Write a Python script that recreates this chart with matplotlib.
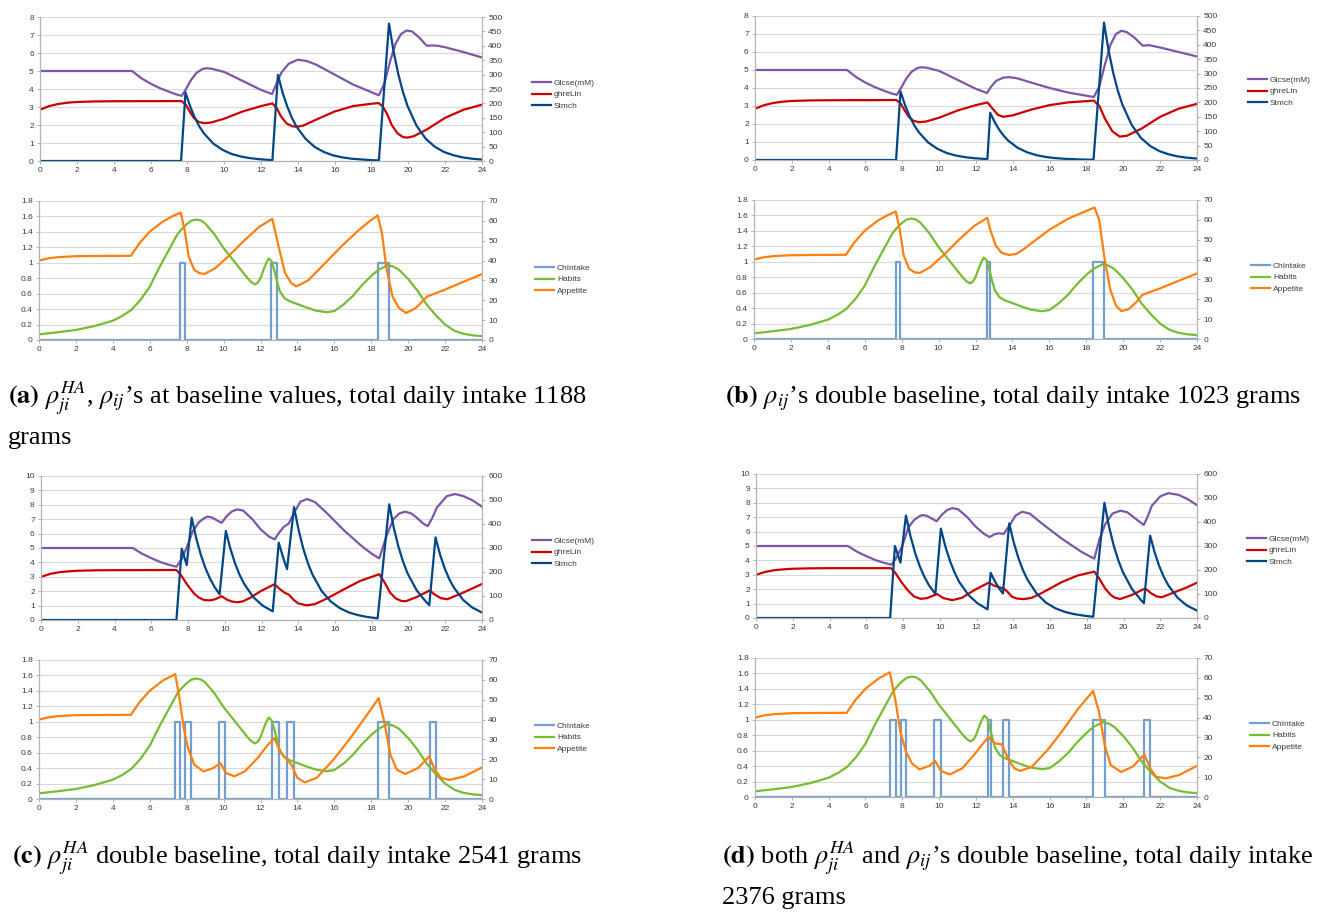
import matplotlib
matplotlib.use("Agg")
import matplotlib.pyplot as plt
from matplotlib.ticker import MultipleLocator, FuncFormatter

plt.rcParams["font.family"] = "Liberation Sans"
plt.rcParams["mathtext.fontset"] = "stix"

W, H = 1317, 914

# ── series: (hour, value) ────────────────────────────────────────────────
# Glucose (mM, left axis), ghrelin (left axis), stomach (right axis)
GLC_A = [(0, 5), (5, 5), (5.5, 4.6), (6, 4.3), (6.5, 4.05), (7, 3.85), (7.4, 3.7), (7.7, 3.62),
         (7.9, 3.95), (8.2, 4.5), (8.5, 4.9), (8.8, 5.1), (9.0, 5.15), (9.3, 5.13), (10, 4.95),
         (11, 4.45), (12, 3.95), (12.6, 3.72), (12.8, 4.2), (13.1, 4.9), (13.5, 5.4), (14, 5.63),
         (14.5, 5.55), (15, 5.35), (16, 4.8), (17, 4.25), (18, 3.82), (18.4, 3.65), (18.7, 4.3),
         (19.0, 5.5), (19.3, 6.5), (19.6, 7.05), (19.9, 7.25), (20.2, 7.2), (20.6, 6.85), (21.0, 6.4),
         (21.3, 6.42), (21.6, 6.4), (22, 6.32), (23, 6.05), (24, 5.75)]
GHR_A = [(0, 2.85), (0.5, 3.05), (1, 3.17), (1.5, 3.24), (2, 3.28), (3, 3.31), (4, 3.32), (7.68, 3.33),
         (7.9, 3.15), (8.1, 2.8), (8.35, 2.4), (8.6, 2.18), (8.9, 2.1), (9.3, 2.14), (10, 2.35),
         (11, 2.75), (12, 3.05), (12.62, 3.2), (12.85, 2.95), (13.1, 2.45), (13.4, 2.08), (13.7, 1.93),
         (13.95, 1.9), (14.3, 1.97), (15, 2.3), (16, 2.75), (17, 3.05), (18, 3.18), (18.38, 3.22),
         (18.6, 3.05), (18.85, 2.6), (19.1, 2.0), (19.4, 1.55), (19.7, 1.33), (19.95, 1.3), (20.3, 1.38),
         (21, 1.75), (22, 2.4), (23, 2.85), (24, 3.13)]
STM_A = [(0, 0), (7.66, 0), (7.9, 238), (8.15, 190), (8.4, 151), (8.65, 120), (8.9, 96), (9.4, 61),
         (9.9, 39), (10.4, 24.5), (10.9, 15.6), (11.4, 9.9), (11.9, 6.3), (12.62, 3), (12.92, 299),
         (13.17, 238), (13.42, 190), (13.67, 151), (13.92, 120), (14.42, 77), (14.92, 48.5),
         (15.42, 31), (15.92, 19.5), (16.42, 12.4), (16.92, 7.9), (17.92, 3.2), (18.4, 2),
         (18.95, 477), (19.2, 380), (19.45, 303), (19.7, 241), (19.95, 192), (20.45, 122),
         (20.95, 77), (21.45, 49), (21.95, 31), (22.45, 20), (22.95, 12.5), (23.45, 8), (24, 5)]

GLC_B = GLC_A[:18] + [(12.8, 4.05), (13.1, 4.4), (13.5, 4.58), (13.8, 4.6), (14.2, 4.55), (15, 4.3),
                      (16, 4.0), (17, 3.75), (18, 3.57), (18.4, 3.5), (18.7, 4.1), (19.0, 5.3),
                      (19.3, 6.4), (19.6, 7.0), (19.9, 7.18), (20.2, 7.1), (20.6, 6.8), (21.05, 6.35),
                      (21.4, 6.38), (22, 6.25), (23, 6.0), (24, 5.75)]
GHR_B = GHR_A[:18] + [(12.9, 2.85), (13.2, 2.5), (13.5, 2.4), (14, 2.48), (15, 2.8), (16, 3.05),
                      (17, 3.2), (18, 3.27), (18.4, 3.3), (18.7, 3.0), (19.0, 2.3), (19.4, 1.6),
                      (19.8, 1.3), (20.2, 1.35), (21, 1.75), (22, 2.4), (23, 2.85), (24, 3.12)]
STM_B = STM_A[:14] + [(12.77, 164), (13.02, 131), (13.27, 104), (13.52, 83), (13.77, 66), (14.27, 42),
                      (14.77, 27), (15.27, 17), (15.77, 10.7), (16.27, 6.8), (16.77, 4.3), (17.77, 1.7),
                      (18.38, 1)] + STM_A[27:]

GLC_C = [(0, 5), (5, 5), (5.5, 4.6), (6, 4.3), (6.5, 4.02), (7, 3.82), (7.37, 3.7), (7.65, 4.2),
         (7.97, 5.15), (8.25, 6.15), (8.6, 6.8), (8.87, 7.06), (9.05, 7.18), (9.3, 7.12), (9.6, 6.9),
         (9.83, 6.75), (10.1, 7.2), (10.4, 7.55), (10.68, 7.68), (11.0, 7.6), (11.5, 7.0), (11.95, 6.3),
         (12.4, 5.8), (12.72, 5.6), (12.95, 6.05), (13.2, 6.45), (13.48, 6.7), (13.76, 7.41),
         (14.12, 8.22), (14.48, 8.4), (14.9, 8.2), (15.57, 7.41), (16.47, 6.25), (17.38, 5.21),
         (18.0, 4.6), (18.41, 4.28), (18.82, 5.9), (19.18, 7.0), (19.5, 7.4), (19.82, 7.52),
         (20.15, 7.4), (20.45, 7.1), (20.8, 6.7), (21.05, 6.52), (21.3, 7.1), (21.54, 7.8),
         (22.08, 8.6), (22.53, 8.75), (23.0, 8.6), (23.5, 8.3), (24, 7.87)]
GHR_C = [(0, 3.0), (0.5, 3.2), (1, 3.32), (1.5, 3.38), (2, 3.42), (3, 3.45), (4, 3.46), (7.37, 3.47),
         (7.6, 3.15), (7.97, 2.43), (8.32, 1.85), (8.6, 1.55), (8.87, 1.39), (9.2, 1.36), (9.5, 1.45),
         (9.83, 1.65), (10.14, 1.4), (10.4, 1.28), (10.68, 1.23), (11.0, 1.3), (11.4, 1.55),
         (11.95, 2.0), (12.7, 2.48), (13.0, 2.15), (13.25, 1.9), (13.5, 1.75), (13.75, 1.4),
         (14.0, 1.15), (14.45, 1.02), (14.9, 1.1), (15.57, 1.5), (16.47, 2.12), (17.38, 2.72),
         (18.41, 3.18), (18.7, 2.6), (19.0, 1.9), (19.3, 1.5), (19.6, 1.33), (19.85, 1.3),
         (20.45, 1.6), (21.15, 2.05), (21.45, 1.75), (21.75, 1.52), (22.1, 1.44), (22.8, 1.8),
         (23.4, 2.15), (24, 2.5)]
STM_C = [(0, 0), (7.37, 0), (7.66, 297), (7.93, 229), (8.2, 426), (8.45, 340), (8.7, 271), (8.95, 216),
         (9.2, 172), (9.45, 137), (9.72, 107), (10.06, 371), (10.31, 296), (10.56, 236), (10.81, 188),
         (11.06, 150), (11.56, 95), (12.06, 60), (12.61, 36), (12.94, 322), (13.19, 257), (13.39, 212),
         (13.77, 470), (14.02, 375), (14.27, 298), (14.52, 238), (14.77, 190), (15.27, 121),
         (15.77, 77), (16.27, 49), (16.77, 31), (17.27, 20), (17.77, 12.4), (18.32, 7),
         (18.95, 482), (19.2, 384), (19.45, 306), (19.7, 244), (19.95, 194), (20.45, 123),
         (20.95, 76), (21.13, 62), (21.47, 344), (21.72, 272), (21.97, 215), (22.22, 170),
         (22.47, 135), (22.97, 84), (23.47, 52), (24, 31)]

GLC_D = GLC_C[:7] + [(7.6, 4.1), (7.96, 5.0), (8.3, 6.3), (8.6, 6.8), (8.87, 7.05), (9.05, 7.15),
                     (9.3, 7.1), (9.6, 6.88), (9.83, 6.72), (10.1, 7.15), (10.4, 7.5), (10.68, 7.63),
                     (11.0, 7.55), (11.5, 7.0), (11.95, 6.35), (12.4, 5.85), (12.72, 5.62),
                     (12.95, 5.8), (13.2, 5.88), (13.48, 5.84), (13.85, 6.53), (14.12, 7.1),
                     (14.48, 7.38), (14.9, 7.25), (15.57, 6.55), (16.65, 5.5), (17.74, 4.57),
                     (18.41, 4.12), (18.7, 5.5), (19.0, 6.5), (19.4, 7.25), (19.82, 7.45),
                     (20.2, 7.35), (20.6, 6.95), (21.1, 6.46), (21.3, 7.0), (21.54, 7.79),
                     (22.0, 8.45), (22.44, 8.67), (23.0, 8.55), (23.5, 8.25), (24, 7.84)]
GHR_D = GHR_C[:7] + [(7.35, 3.46), (7.6, 3.1), (7.96, 2.41), (8.32, 1.84), (8.6, 1.5), (8.96, 1.33),
                     (9.3, 1.38), (9.86, 1.66), (10.2, 1.38), (10.68, 1.24), (11.2, 1.4), (11.9, 1.95),
                     (12.67, 2.46), (12.95, 2.25), (13.2, 2.15), (13.48, 2.05), (13.7, 1.8),
                     (13.94, 1.47), (14.2, 1.35), (14.57, 1.31), (15.0, 1.4), (15.57, 1.75),
                     (16.65, 2.5), (17.5, 2.95), (18.41, 3.22), (18.7, 2.7), (19.0, 2.05),
                     (19.3, 1.6), (19.55, 1.4), (19.82, 1.32), (20.45, 1.6), (21.18, 2.05),
                     (21.5, 1.72), (21.8, 1.5), (22.08, 1.44), (22.8, 1.8), (23.4, 2.1), (24, 2.45)]
STM_D = [(0, 0), (7.3, 0), (7.56, 300), (7.86, 231), (8.16, 427), (8.41, 340), (8.66, 271), (8.91, 216),
         (9.16, 172), (9.41, 137), (9.76, 100), (10.06, 372), (10.31, 297), (10.56, 237), (10.81, 189),
         (11.06, 150), (11.56, 96), (12.06, 61), (12.6, 36), (12.77, 188), (13.02, 150), (13.27, 119),
         (13.44, 102), (13.78, 394), (14.03, 314), (14.28, 250), (14.53, 199), (14.78, 159),
         (15.28, 101), (15.78, 64), (16.28, 41), (16.78, 26), (17.28, 16.5), (17.78, 10.5),
         (18.35, 5), (18.96, 480), (19.21, 382), (19.46, 304), (19.71, 242), (19.96, 192),
         (20.46, 121), (20.96, 74), (21.11, 62), (21.45, 343), (21.7, 272), (21.95, 215),
         (22.2, 170), (22.45, 135), (22.95, 84), (23.45, 52), (24, 31)]

# Chyme intake pulses (start, end), left axis, value 1
INTAKE_A = [(7.66, 7.92), (12.58, 12.92), (18.35, 18.97)]
INTAKE_B = [(7.67, 7.92), (12.6, 12.8), (18.37, 18.98)]
INTAKE_C = [(7.36, 7.66), (7.92, 8.24), (9.74, 10.08), (12.62, 12.98), (13.44, 13.82),
            (18.38, 18.97), (21.17, 21.49)]
INTAKE_D = [(7.32, 7.64), (7.93, 8.2), (9.73, 10.08), (12.64, 12.81), (13.44, 13.79),
            (18.36, 18.99), (21.14, 21.47)]

# Habits (left axis) – same in all four runs
HABITS = [(0, 0.073), (1, 0.1), (2, 0.13), (3, 0.18), (4, 0.25), (4.5, 0.31), (5, 0.39), (5.5, 0.52),
          (6, 0.69), (6.5, 0.93), (7, 1.15), (7.5, 1.37), (7.75, 1.44), (8, 1.5), (8.25, 1.545),
          (8.5, 1.56), (8.75, 1.55), (9, 1.51), (9.5, 1.37), (10, 1.19), (10.5, 1.04), (11, 0.89),
          (11.3, 0.8), (11.5, 0.75), (11.7, 0.72), (11.85, 0.74), (12.0, 0.8), (12.15, 0.9),
          (12.3, 0.99), (12.45, 1.055), (12.6, 1.02), (12.75, 0.9), (12.9, 0.75), (13.05, 0.63),
          (13.3, 0.54), (13.6, 0.5), (14, 0.465), (14.5, 0.42), (15, 0.38), (15.6, 0.36), (16, 0.375),
          (16.5, 0.46), (17, 0.57), (17.5, 0.71), (18, 0.83), (18.4, 0.91), (18.9, 0.97), (19.2, 0.95),
          (19.5, 0.91), (20, 0.79), (20.5, 0.64), (21, 0.46), (21.5, 0.32), (22, 0.2), (22.5, 0.12),
          (23, 0.08), (23.5, 0.06), (24, 0.05)]

# Appetite (right axis, 0-70)
APP_A = [(0, 40), (0.5, 41.1), (1, 41.7), (2, 42.2), (3, 42.3), (4.98, 42.4), (5.44, 48.7), (6.01, 54.6),
         (6.7, 59.6), (7.27, 62.5), (7.68, 64.2), (7.89, 55.4), (8.11, 42), (8.41, 35.3), (8.7, 33.6),
         (8.98, 33.3), (9.55, 36.2), (10.24, 42), (11.15, 50.4), (11.95, 57.1), (12.64, 61),
         (12.98, 47.1), (13.33, 33.7), (13.67, 28.6), (13.94, 27), (14.58, 30), (15.5, 38.7),
         (16.41, 47.4), (17.33, 55.4), (18.01, 60.5), (18.35, 62.7), (18.58, 53.8), (18.81, 37),
         (19.15, 21.9), (19.5, 16.1), (19.89, 13.6), (20.41, 16.1), (21.03, 21.9), (21.9, 25),
         (23.04, 29.5), (24, 33.2)]
APP_B = APP_A[:21] + [(12.8, 55), (13.1, 47), (13.4, 43.5), (13.8, 42.3), (14.2, 42.8), (14.5, 44.5),
                      (15, 48), (16, 55), (17, 60.5), (18, 64.5), (18.45, 66.2), (18.7, 60),
                      (19.0, 40), (19.3, 25), (19.6, 17), (19.9, 14), (20.3, 15), (20.7, 18.5),
                      (21.05, 22.3), (21.5, 23.8), (22, 25.5), (23, 29.3), (24, 33)]
APP_C = APP_A[:9] + [(7.38, 62.9), (7.61, 50.8), (7.84, 35.7), (8.07, 25.7), (8.41, 17.3), (8.91, 13.9),
                     (9.44, 15.6), (9.83, 18.1), (10.13, 13.1), (10.58, 11.4), (11.15, 13.9),
                     (11.84, 20.6), (12.41, 27.4), (12.75, 30.7), (13.1, 23.2), (13.44, 19.8),
                     (13.67, 17.3), (14.0, 10.6), (14.4, 8.4), (15.04, 10.6), (15.95, 19.8),
                     (16.87, 30.7), (17.78, 42.5), (18.4, 50.8), (18.7, 39), (19.04, 22.3),
                     (19.38, 14.8), (19.84, 12.6), (20.53, 15.6), (21.14, 21.5), (21.44, 14.8),
                     (21.78, 10.6), (22.24, 9.6), (23.04, 11.4), (24, 15.9)]
APP_D = APP_A[:9] + [(7.32, 62.8), (7.64, 47.9), (7.89, 32.8), (8.2, 22.8), (8.52, 16.9), (8.94, 13.9),
                     (9.47, 15.7), (9.78, 18.1), (10.1, 13.1), (10.58, 11.4), (11.25, 14.4),
                     (11.88, 21.1), (12.66, 30.1), (13.04, 27), (13.4, 26.5), (13.78, 18.6),
                     (14.09, 14.4), (14.41, 13.1), (15.04, 15.3), (15.88, 23.6), (16.72, 33.7),
                     (17.56, 44.6), (18.36, 53.4), (18.68, 42.9), (18.99, 26.1), (19.31, 16.1),
                     (19.88, 12.6), (20.51, 15.3), (21.14, 21.4), (21.46, 14.4), (21.77, 10.2),
                     (22.3, 9.4), (23.04, 11.1), (24, 15.7)]

CAPTIONS = {
    "a": [r"$\mathbf{(a)}$ $\rho_{ji}^{HA}$, $\rho_{ij}$’s at baseline values, total daily intake 1188",
          "grams"],
    "b": [r"$\mathbf{(b)}$ $\rho_{ij}$’s double baseline, total daily intake 1023 grams"],
    "c": [r"$\mathbf{(c)}$ $\rho_{ji}^{HA}$ double baseline, total daily intake 2541 grams"],
    "d": [r"$\mathbf{(d)}$ both $\rho_{ji}^{HA}$ and $\rho_{ij}$’s double baseline, total daily intake",
          "2376 grams"],
}

C_GLC, C_GHR, C_STM = "#7e56a8", "#cc0000", "#004586"
C_INT, C_HAB, C_APP = "#729fcf", "#77bc34", "#ff800e"
GRID, AXC, TXT = "#d9d9d9", "#b3b3b3", "#3c3c3c"
FS = 6


def _xy(pts):
    return [p[0] for p in pts], [p[1] for p in pts]


def _steps(spans):
    xs, ys = [0], [0]
    for s, e in spans:
        xs += [s, s, e, e]
        ys += [0, 1, 1, 0]
    return xs + [24], ys + [0]


def _axes(fig, x0, x1, ytop, ybot):
    return fig.add_axes([x0 / W, 1 - ybot / H, (x1 - x0) / W, (ybot - ytop) / H])


def _style(ax, ax2, ymax, ystep, rmax, rstep):
    fmt = FuncFormatter(lambda v, p: f"{v:g}")
    ax.set_xlim(0, 24)
    ax.set_ylim(0, ymax)
    ax2.set_ylim(0, rmax)
    ax.xaxis.set_major_locator(MultipleLocator(2))
    ax.yaxis.set_major_locator(MultipleLocator(ystep))
    ax2.yaxis.set_major_locator(MultipleLocator(rstep))
    for a in (ax, ax2):
        a.xaxis.set_major_formatter(fmt)
        a.yaxis.set_major_formatter(fmt)
        a.tick_params(labelsize=FS, colors=AXC, labelcolor=TXT, length=2.5, width=0.7, pad=2)
        for s in a.spines.values():
            s.set_color(AXC)
            s.set_linewidth(0.8)
        a.spines["top"].set_visible(False)
    ax.grid(axis="y", color=GRID, lw=0.8)
    ax.set_axisbelow(True)


def _legend(fig, handles, labels, x, y):
    fig.legend(handles, labels, loc="upper left", bbox_to_anchor=(x / W, 1 - y / H),
               bbox_transform=fig.transFigure, frameon=False, fontsize=FS,
               handlelength=2.3, handletextpad=0.35, labelspacing=0.45,
               borderpad=0, borderaxespad=0, labelcolor=TXT)


def top_chart(fig, box, glc, ghr, stm, ymax, rmax, rstep, leg):
    ax = _axes(fig, *box)
    ax2 = ax.twinx()
    l1, = ax.plot(*_xy(glc), color=C_GLC, lw=1.6)
    l2, = ax.plot(*_xy(ghr), color=C_GHR, lw=1.6)
    l3, = ax2.plot(*_xy(stm), color=C_STM, lw=1.6)
    _style(ax, ax2, ymax, 1, rmax, rstep)
    _legend(fig, [l1, l2, l3], ["Glcse(mM)", "ghreLin", "Stmch"], *leg)


def bottom_chart(fig, box, intake, app, leg):
    ax = _axes(fig, *box)
    ax2 = ax.twinx()
    l1, = ax.plot(*_steps(intake), color=C_INT, lw=1.6)
    l2, = ax.plot(*_xy(HABITS), color=C_HAB, lw=1.6)
    l3, = ax2.plot(*_xy(app), color=C_APP, lw=1.6)
    _style(ax, ax2, 1.8, 0.2, 70, 10)
    _legend(fig, [l1, l2, l3], ["ChIntake", "Habits", "Appetite"], *leg)


fig = plt.figure(figsize=(W / 100, H / 100), dpi=100)

top_chart(fig, (40, 482, 17, 161), GLC_A, GHR_A, STM_A, 8, 500, 50, (532, 79))
bottom_chart(fig, (39, 482, 201, 340), INTAKE_A, APP_A, (535, 264))
top_chart(fig, (755, 1197, 16, 160), GLC_B, GHR_B, STM_B, 8, 500, 50, (1248, 76))
bottom_chart(fig, (754, 1197, 200, 339), INTAKE_B, APP_B, (1251, 262))
top_chart(fig, (41, 482, 476, 620), GLC_C, GHR_C, STM_C, 10, 600, 100, (532, 537))
bottom_chart(fig, (39, 482, 660, 799), INTAKE_C, APP_C, (535, 722))
top_chart(fig, (756, 1197, 474, 618), GLC_D, GHR_D, STM_D, 10, 600, 100, (1247, 535))
bottom_chart(fig, (755, 1197, 658, 797), INTAKE_D, APP_D, (1250, 720))

cap_pos = {"a": (8, 398), "b": (725, 398), "c": (12, 858), "d": (722, 858)}
for key, lines in CAPTIONS.items():
    x, y = cap_pos[key]
    for i, line in enumerate(lines):
        fig.text(x / W, 1 - (y + 40 * i) / H, line, family="Liberation Serif",
                 fontsize=19, va="center", ha="left", color="black")

fig.savefig("out.png", dpi=100)
